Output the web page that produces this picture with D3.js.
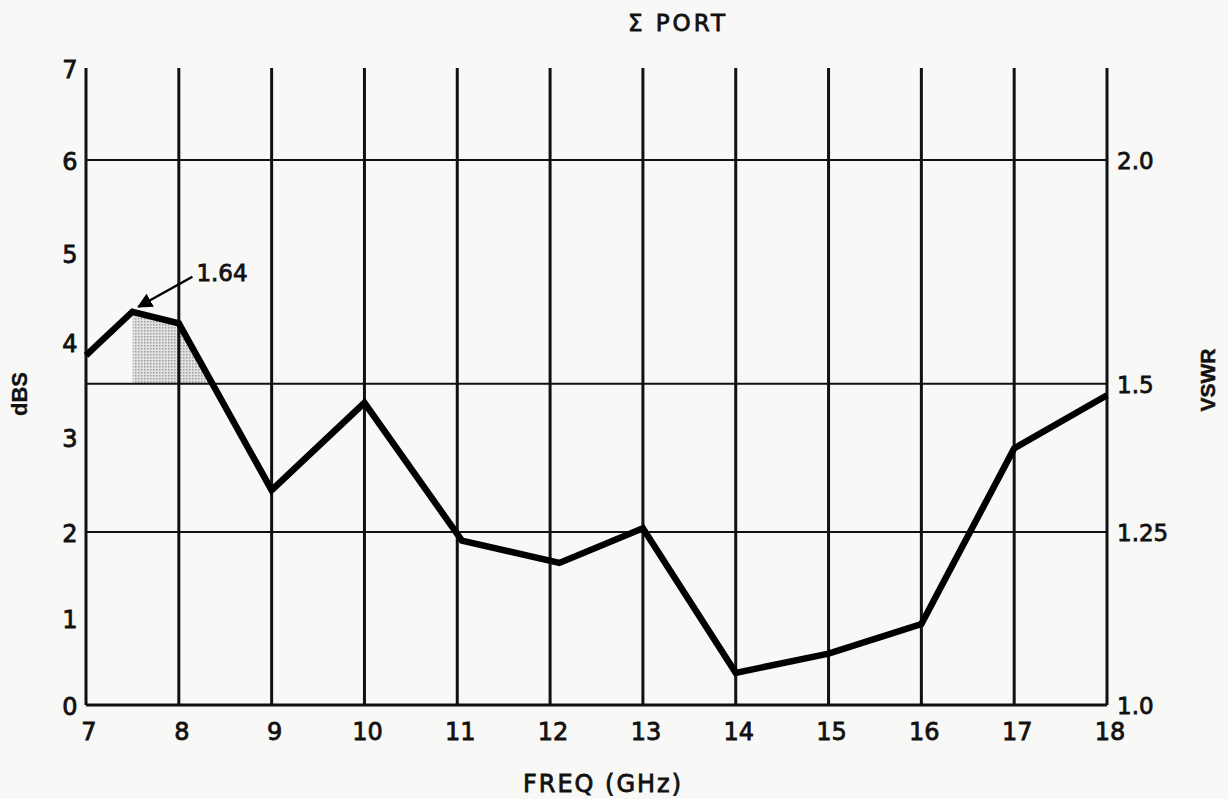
<!DOCTYPE html>
<html>
<head>
<meta charset="utf-8">
<script src="https://cdn.jsdelivr.net/npm/d3@7"></script>
<style>
  body { margin: 0; background: #f8f8f6; }
  text { font-family: 'DejaVu Sans', sans-serif; fill: #111; stroke: #111; stroke-width: 0.8px; }
  text.bold { font-family: 'Liberation Sans', 'DejaVu Sans', sans-serif; font-weight: bold; stroke-width: 0.3px; }
  text.narrow { font-family: 'Liberation Sans Narrow', 'Liberation Sans', sans-serif; font-weight: bold; stroke-width: 0.5px; }
</style>
</head>
<body>
<div id="chart"></div>
<script>
// measured response, dB vs frequency (GHz)
const freqs = [7, 7.5, 8, 9, 10, 11.05, 12.1, 13, 14, 15, 16, 17, 18]
const dbs = [3.86, 4.34, 4.21, 2.44, 3.36, 1.9, 1.64, 2.04, 0.37, 0.59, 0.93, 2.88, 3.44]

const xTicks = [7, 8, 9, 10, 11, 12, 13, 14, 15, 16, 17, 18]
const dbTicks = [0, 1, 2, 3, 4, 5, 6, 7]
const vswrLabels = ['1.0', '1.25', '1.5', '2.0']
const vswrAtDb = [0, 2, 3.56, 6]

const peakLabel = '1.64'
const shadeFrom = 7.5
const shadeLevel = 3.56

const width = 1228
const height = 799

const data = freqs.map((f, i) => ({ f, db: dbs[i] }))

const x = d3.scaleLinear().domain([7, 18]).range([86, 1107])
// the printed dB scale is slightly uneven, so follow the drawn ticks
const y = d3
    .scaleLinear()
    .domain(dbTicks)
    .range([705, 618, 532, 437, 342, 253, 160, 68])

const svg = d3
    .select('#chart')
    .append('svg')
    .attr('width', width)
    .attr('height', height)

svg.append('rect')
    .attr('width', width)
    .attr('height', height)
    .attr('fill', '#f8f8f6')

// dotted shading pattern
const defs = svg.append('defs')
const pat = defs
    .append('pattern')
    .attr('id', 'dots')
    .attr('width', 3)
    .attr('height', 3)
    .attr('patternUnits', 'userSpaceOnUse')
pat.append('rect').attr('width', 3).attr('height', 3).attr('fill', '#e2e2e2')
pat.append('rect').attr('width', 1.5).attr('height', 1.5).attr('fill', '#9a9a9a')

defs.append('clipPath')
    .attr('id', 'above')
    .append('rect')
    .attr('x', x(shadeFrom))
    .attr('y', y(7))
    .attr('width', x(18) - x(shadeFrom))
    .attr('height', y(shadeLevel) - y(7))

// shaded region between peak and the 1.5 VSWR line
const shade = d3
    .area()
    .x((d) => x(d.f))
    .y0(y(shadeLevel))
    .y1((d) => y(d.db))
svg.append('path')
    .datum(data.filter((d) => d.f >= shadeFrom && d.f <= 9))
    .attr('d', shade)
    .attr('fill', 'url(#dots)')
    .attr('clip-path', 'url(#above)')

// vertical grid lines
svg.append('g')
    .selectAll('line')
    .data(xTicks)
    .enter()
    .append('line')
    .attr('x1', (d) => x(d))
    .attr('x2', (d) => x(d))
    .attr('y1', y(7))
    .attr('y2', y(0))
    .attr('stroke', '#111')
    .attr('stroke-width', 3)

// horizontal grid lines at VSWR values
svg.append('g')
    .selectAll('line')
    .data(vswrAtDb)
    .enter()
    .append('line')
    .attr('x1', x(7))
    .attr('x2', x(18))
    .attr('y1', (d) => y(d))
    .attr('y2', (d) => y(d))
    .attr('stroke', '#111')
    .attr('stroke-width', (d) => (d === 0 ? 3 : 2))

// data line
const line = d3
    .line()
    .x((d) => x(d.f))
    .y((d) => y(d.db))
svg.append('path')
    .datum(data)
    .attr('d', line)
    .attr('fill', 'none')
    .attr('stroke', '#000')
    .attr('stroke-width', 6.5)
    .attr('stroke-linejoin', 'miter')

// x tick labels
svg.append('g')
    .selectAll('text')
    .data(xTicks)
    .enter()
    .append('text')
    .attr('x', (d) => x(d) + 3)
    .attr('y', 740)
    .attr('text-anchor', 'middle')
    .style('font-size', '24px')
    .text((d) => d)

// left dB labels
svg.append('g')
    .selectAll('text')
    .data(dbTicks)
    .enter()
    .append('text')
    .attr('x', 70)
    .attr('y', (d) => y(d) + 10)
    .attr('text-anchor', 'middle')
    .style('font-size', '24px')
    .text((d) => d)

// right VSWR labels
svg.append('g')
    .selectAll('text')
    .data(vswrAtDb)
    .enter()
    .append('text')
    .attr('x', 1117)
    .attr('y', (d, i) => y(d) + 9)
    .style('font-size', '23px')
    .text((d, i) => vswrLabels[i])

// titles
svg.append('text')
    .attr('x', 678)
    .attr('y', 31)
    .attr('text-anchor', 'middle')
    .style('font-size', '23px')
    .style('letter-spacing', '3px')
    .text('Σ  PORT')

svg.append('text')
    .attr('x', 603)
    .attr('y', 792)
    .attr('text-anchor', 'middle')
    .style('font-size', '24px')
    .style('letter-spacing', '2px')
    .text('FREQ  (GHz)')

svg.append('text')
    .attr('class', 'bold')
    .attr('transform', 'translate(27, 394) rotate(-90)')
    .attr('text-anchor', 'middle')
    .style('font-size', '22px')
    .text('dBS')

svg.append('text')
    .attr('class', 'narrow')
    .attr('transform', 'translate(1215, 380) rotate(-90)')
    .attr('text-anchor', 'middle')
    .style('font-size', '21px')
    .text('VSWR')

// peak annotation with arrow
defs.append('marker')
    .attr('id', 'arrow')
    .attr('viewBox', '0 0 10 10')
    .attr('refX', 9)
    .attr('refY', 5)
    .attr('markerWidth', 6)
    .attr('markerHeight', 6)
    .attr('orient', 'auto')
    .append('path')
    .attr('d', 'M0,0 L10,5 L0,10 Z')
    .attr('fill', '#000')

const peak = data[1]
svg.append('line')
    .attr('x1', x(peak.f) + 60)
    .attr('y1', y(peak.db) - 35)
    .attr('x2', x(peak.f) + 6)
    .attr('y2', y(peak.db) - 5)
    .attr('stroke', '#000')
    .attr('stroke-width', 2.5)
    .attr('marker-end', 'url(#arrow)')

svg.append('text')
    .attr('x', x(peak.f) + 64)
    .attr('y', y(peak.db) - 31)
    .style('font-size', '23px')
    .text(peakLabel)
</script>
</body>
</html>
